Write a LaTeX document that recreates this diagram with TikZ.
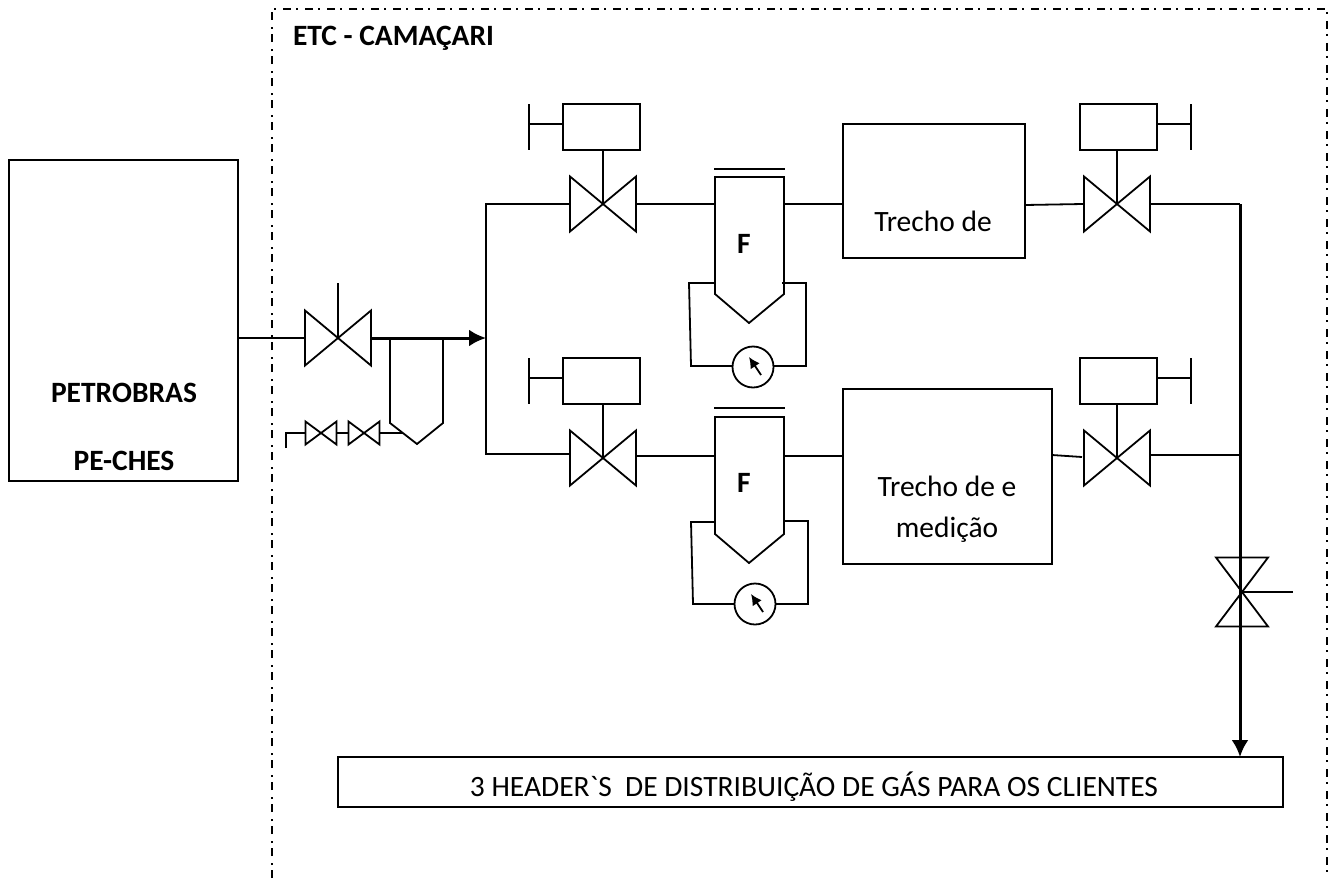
\documentclass[tikz,border=0pt]{standalone}
\usepackage{fontspec}
\setmainfont{Carlito}[Ligatures=TeXOff]
\usetikzlibrary{arrows.meta}

\begin{document}
\begin{tikzpicture}[x=1pt, y=-1pt, line width=1.8pt,
    every node/.style={inner sep=0pt, outer sep=0pt, font=\fontsize{29.5}{36}\selectfont},
    box/.style={draw, anchor=north west},
    label/.style={anchor=base},
    valve/.style={minimum width=66pt, minimum height=55pt},
    smallvalve/.style={minimum width=31pt, minimum height=23pt},
    gauge/.style={circle, draw, minimum size=41pt},
    boundary/.style={dash pattern=on 8pt off 5pt on 2pt off 7pt},
    main/.style={line width=3pt},
    tip/.style={-{Latex[length=17pt,width=17pt]}}]
    \useasboundingbox (0,0) rectangle (1332,883);

    % Limite da ETC
    \coordinate (framebl) at (272,878);
    \coordinate (frametl) at (272,9);
    \coordinate (frametr) at (1327,9);
    \coordinate (framebr) at (1327,878);
    \draw[boundary] (framebl) -- (frametl) -- (frametr) -- (framebr);
    \node[anchor=base west] (etc) at (293,46) {\textbf{ETC - CAMAÇARI}};

    % Caixas
    \node[box, minimum width=229pt, minimum height=321pt] (petrobras) at (9,160) {};
    \node[label] (petrotexta) at (124,402) {\textbf{PETROBRAS}};
    \node[label] (petrotextb) at (124,470) {\textbf{PE-CHES}};
    \node[box, minimum width=182pt, minimum height=134pt] (trechoa) at (843,124) {};
    \node[label] (trechoatext) at (933,231) {Trecho de};
    \node[box, minimum width=209pt, minimum height=175pt] (trechob) at (843,389) {};
    \node[label] (trechobtexta) at (947,496) {Trecho de e};
    \node[label] (trechobtextb) at (947,537) {medição};
    \node[box, minimum width=945pt, minimum height=50pt] (header) at (338,757) {};
    \node[label] (headertext) at (814,796) {3 HEADER\symbol{96}S\ \ DE DISTRIBUIÇÃO DE GÁS PARA OS CLIENTES};

    % Atuadores
    \node[box, minimum width=77pt, minimum height=46pt] (atuaa) at (563,104) {};
    \node[box, minimum width=77pt, minimum height=46pt] (atuab) at (563,358) {};
    \node[box, minimum width=77pt, minimum height=46pt] (atuac) at (1080,104) {};
    \node[box, minimum width=77pt, minimum height=46pt] (atuad) at (1080,358) {};

    % Valvulas
    \node[valve] (valvein) at (338,338) {};
    \node[valve] (valvea) at (603,204) {};
    \node[valve] (valveb) at (603,458) {};
    \node[valve] (valvec) at (1117,204) {};
    \node[valve] (valved) at (1117,458) {};
    \node[smallvalve] (dreno1) at (321,433) {};
    \node[smallvalve] (dreno2) at (364,433) {};
    \foreach \v in {valvein,valvea,valveb,valvec,valved,dreno1,dreno2}
        \draw[line join=miter] (\v.north west) -- (\v.south east) -- (\v.north east) -- (\v.south west) -- cycle;
    \node[minimum width=52pt, minimum height=69pt] (valvesaida) at (1242,592) {};
    \draw (valvesaida.north west) -- (valvesaida.south east) -- (valvesaida.south west) -- (valvesaida.north east) -- cycle;

    % Filtros
    \coordinate (fpa1) at (390,338);
    \coordinate (fpa2) at (390,423);
    \coordinate (fpa3) at (417,444);
    \coordinate (fpa4) at (443,423);
    \coordinate (fpa5) at (443,338);
    \draw (fpa1) -- (fpa2) -- (fpa3) -- (fpa4) -- (fpa5);
    \coordinate (fa1) at (715,177);
    \coordinate (fa2) at (715,294);
    \coordinate (fa3) at (749,323);
    \coordinate (fa4) at (784,294);
    \coordinate (fa5) at (784,177);
    \draw (fa1) -- (fa2) -- (fa3) -- (fa4) -- (fa5) -- cycle;
    \coordinate (fb1) at (715,417);
    \coordinate (fb2) at (715,534);
    \coordinate (fb3) at (749,563);
    \coordinate (fb4) at (784,534);
    \coordinate (fb5) at (784,417);
    \draw (fb1) -- (fb2) -- (fb3) -- (fb4) -- (fb5) -- cycle;
    \node[label] (fatext) at (744,253) {\textbf{F}};
    \node[label] (fbtext) at (744,492) {\textbf{F}};
    \coordinate (barraa1) at (714,169);
    \coordinate (barraa2) at (785,169);
    \coordinate (barrab1) at (714,408);
    \coordinate (barrab2) at (785,408);
    \draw (barraa1) -- (barraa2);
    \draw (barrab1) -- (barrab2);

    % Manometros
    \node[gauge] (gaugea) at (753,367) {};
    \node[gauge] (gaugeb) at (755,604) {};
    \coordinate (agulhaa1) at (761,375);
    \coordinate (agulhaa2) at (749,357);
    \coordinate (agulhab1) at (763,612);
    \coordinate (agulhab2) at (751,594);
    \draw[-{Latex[length=11pt,width=11pt]}] (agulhaa1) -- (agulhaa2);
    \draw[-{Latex[length=11pt,width=11pt]}] (agulhab1) -- (agulhab2);

    \coordinate (loopa1) at (715,283);
    \coordinate (loopa2) at (689,283);
    \coordinate (loopa3) at (691,366);
    \coordinate (loopa4) at (806,366);
    \coordinate (loopa5) at (806,283);
    \coordinate (loopa6) at (782,283);
    \draw (loopa1) -- (loopa2) -- (loopa3) -- (gaugea.west |- loopa3);
    \draw (gaugea.east |- loopa4) -- (loopa4) -- (loopa5) -- (loopa6);
    \coordinate (loopb1) at (715,522);
    \coordinate (loopb2) at (691,522);
    \coordinate (loopb3) at (693,604);
    \coordinate (loopb4) at (808,604);
    \coordinate (loopb5) at (808,521);
    \coordinate (loopb6) at (784,521);
    \draw (loopb1) -- (loopb2) -- (loopb3) -- (gaugeb.west);
    \draw (gaugeb.east) -- (loopb4) -- (loopb5) -- (loopb6);

    % Entrada
    \coordinate (entrada) at (238,338);
    \coordinate (chegada) at (486,338);
    \coordinate (hastein) at (338,283);
    \draw (entrada) -- (valvein.west);
    \draw (hastein) -- (valvein.center);
    \draw[main, tip] (valvein.east) -- (chegada);

    % Dreno
    \coordinate (drenofim) at (286,448);
    \coordinate (drenocanto) at (286,433);
    \coordinate (drenofiltro) at (403,433);
    \draw (drenofim) -- (drenocanto) -- (dreno1.west);
    \draw (dreno1.east) -- (dreno2.west);
    \draw (dreno2.east) -- (drenofiltro);

    % Linhas de cima e de baixo
    \coordinate (coletora) at (486,204);
    \coordinate (coletorb) at (486,454);
    \coordinate (coletorbv) at (570,454);
    \coordinate (fentraa) at (715,204);
    \coordinate (fsaia) at (784,204);
    \coordinate (fentrab) at (715,456);
    \coordinate (fsaib) at (784,456);
    \coordinate (valvebe) at (635,456);
    \coordinate (valvebd) at (843,456);
    \draw (valvea.west) -- (coletora) -- (coletorb) -- (coletorbv);
    \draw (valvea.east) -- (fentraa);
    \draw (fsaia) -- (trechoa.west |- fsaia);
    \draw (valvebe) -- (fentrab);
    \draw (fsaib) -- (valvebd);
    \coordinate (trechoasai) at (1025,205);
    \coordinate (valveca) at (1083,204);
    \coordinate (trechobsai) at (1052,455);
    \coordinate (valveda) at (1082,457);
    \draw (trechoasai) -- (valveca);
    \draw (trechobsai) -- (valveda);

    % Coletor de saida
    \coordinate (saidaa) at (1240,204);
    \coordinate (saidab) at (1240,455);
    \coordinate (valvedb) at (1150,455);
    \coordinate (saidafim) at (1240,757);
    \coordinate (hastesaida) at (1293,592);
    \draw (valvec.east) -- (saidaa);
    \draw (valvedb) -- (saidab);
    \draw[main, tip] (saidaa) -- (saidafim);
    \draw (valvesaida.center) -- (hastesaida);

    % Hastes e volantes
    \draw (atuaa.south -| valvea) -- (valvea.center);
    \draw (atuab.south -| valveb) -- (valveb.center);
    \draw (atuac.south -| valvec) -- (valvec.center);
    \draw (atuad.south -| valved) -- (valved.center);
    \coordinate (volantea1) at (529,104);
    \coordinate (volantea2) at (529,150);
    \coordinate (volantea3) at (529,124);
    \draw (volantea1) -- (volantea2);
    \draw (volantea3) -- (volantea3 -| atuaa.west);
    \coordinate (volanteb1) at (529,358);
    \coordinate (volanteb2) at (529,404);
    \coordinate (volanteb3) at (529,378);
    \draw (volanteb1) -- (volanteb2);
    \draw (volanteb3) -- (volanteb3 -| atuab.west);
    \coordinate (volantec1) at (1191,104);
    \coordinate (volantec2) at (1191,150);
    \coordinate (volantec3) at (1191,124);
    \draw (volantec1) -- (volantec2);
    \draw (volantec3) -- (volantec3 -| atuac.east);
    \coordinate (volanted1) at (1191,358);
    \coordinate (volanted2) at (1191,404);
    \coordinate (volanted3) at (1191,378);
    \draw (volanted1) -- (volanted2);
    \draw (volanted3) -- (volanted3 -| atuad.east);
\end{tikzpicture}
\end{document}
